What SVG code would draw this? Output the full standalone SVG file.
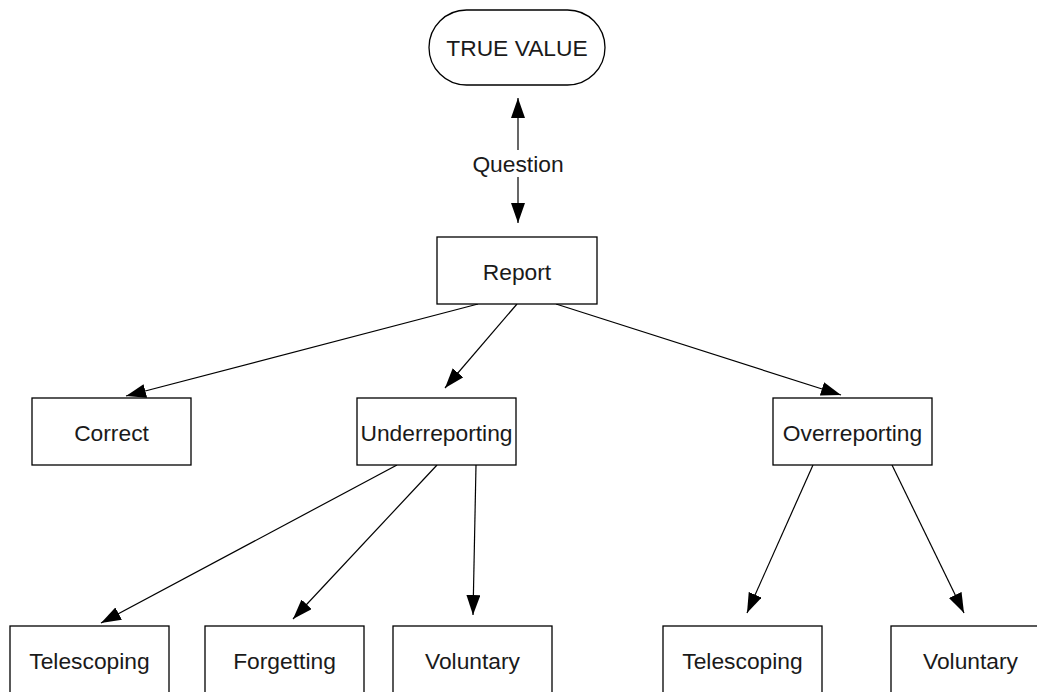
<svg xmlns="http://www.w3.org/2000/svg" width="1037" height="692" viewBox="0 0 1037 692">
<style>
.box{fill:#fff;stroke:#000;stroke-width:1.3}
.lbl{font-family:"Liberation Sans",Arial,sans-serif;font-size:22.8px;fill:#1a1a1a;text-anchor:middle}
.edge{stroke:#000;stroke-width:1.2;fill:none;marker-end:url(#arr)}
</style>
<defs>
<marker id="arr" markerUnits="userSpaceOnUse" markerWidth="21" markerHeight="15" refX="20" refY="7" orient="auto">
<path d="M0,0 L20,7 L0,14 z" fill="#000"/>
</marker>
</defs>
<rect width="1037" height="692" fill="#fff"/>
<g id="connectors">
<line class="edge" x1="518" y1="150" x2="518" y2="98"/>
<line class="edge" x1="518" y1="177" x2="518" y2="223"/>
<line class="edge" x1="478" y1="304" x2="126" y2="396"/>
<line class="edge" x1="517" y1="304" x2="445" y2="388"/>
<line class="edge" x1="556" y1="304" x2="841" y2="395"/>
<line class="edge" x1="397" y1="465" x2="101" y2="623"/>
<line class="edge" x1="437" y1="465" x2="293" y2="619"/>
<line class="edge" x1="476" y1="465" x2="473" y2="615"/>
<line class="edge" x1="813" y1="465" x2="747" y2="613"/>
<line class="edge" x1="892" y1="465" x2="964" y2="613"/>
<text class="lbl" x="518" y="172">Question</text>
</g>
<g id="true-value">
<rect class="box" x="429" y="10" width="176" height="75" rx="37.5" ry="37.5"/>
<text class="lbl" x="517" y="56">TRUE VALUE</text>
</g>
<g id="report">
<rect class="box" x="437" y="237" width="160" height="67"/>
<text class="lbl" x="517" y="280">Report</text>
</g>
<g id="correct">
<rect class="box" x="32" y="398" width="159" height="67"/>
<text class="lbl" x="111.5" y="441">Correct</text>
</g>
<g id="underreporting">
<rect class="box" x="357" y="398" width="159" height="67"/>
<text class="lbl" x="436.5" y="441">Underreporting</text>
</g>
<g id="overreporting">
<rect class="box" x="773" y="398" width="159" height="67"/>
<text class="lbl" x="852.5" y="441">Overreporting</text>
</g>
<g id="telescoping-under">
<rect class="box" x="10" y="626" width="159" height="70"/>
<text class="lbl" x="89.5" y="669">Telescoping</text>
</g>
<g id="forgetting">
<rect class="box" x="205" y="626" width="159" height="70"/>
<text class="lbl" x="284.5" y="669">Forgetting</text>
</g>
<g id="voluntary-under">
<rect class="box" x="393" y="626" width="159" height="70"/>
<text class="lbl" x="472.5" y="669">Voluntary</text>
</g>
<g id="telescoping-over">
<rect class="box" x="663" y="626" width="159" height="70"/>
<text class="lbl" x="742.5" y="669">Telescoping</text>
</g>
<g id="voluntary-over">
<rect class="box" x="891" y="626" width="159" height="70"/>
<text class="lbl" x="970.5" y="669">Voluntary</text>
</g>
</svg>
